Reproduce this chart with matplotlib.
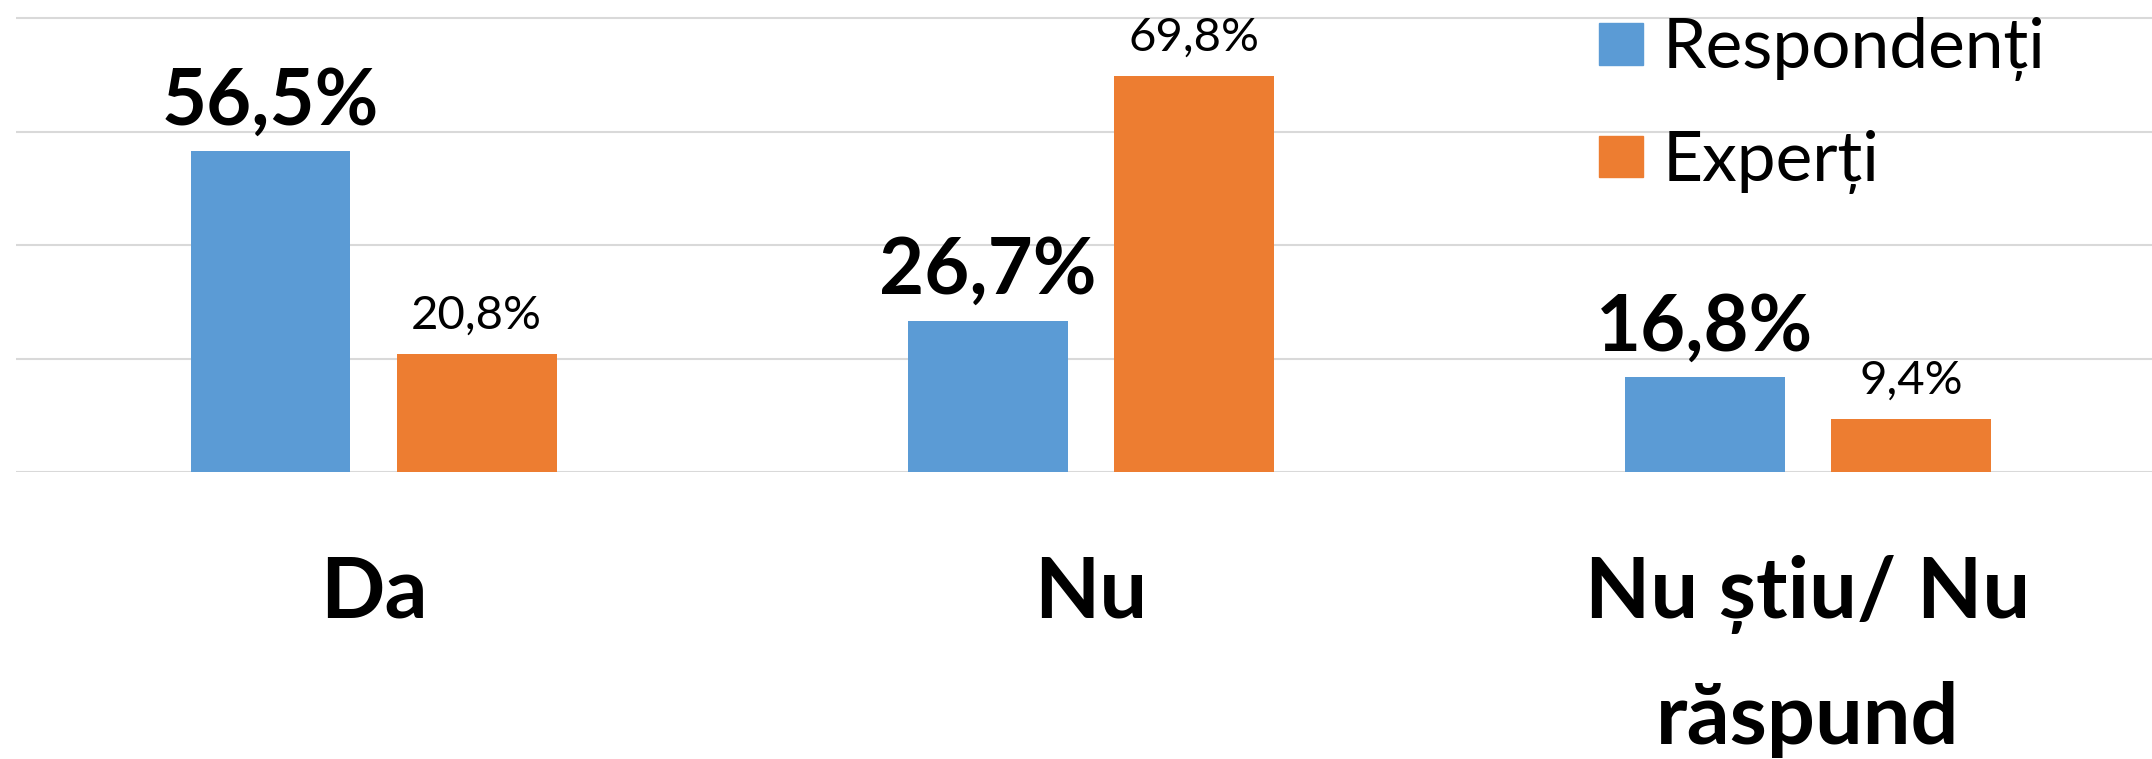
import matplotlib
matplotlib.use('Agg')
import matplotlib.pyplot as plt
import matplotlib.patches as mpatches
import numpy as np

# DATA
categories = ['Da', 'Nu', 'Nu știu/ Nu\nrăspund']
respondenti = [56.5, 26.7, 16.8]
experti = [20.8, 69.8, 9.4]
series_names = ['Respondenți', 'Experți']

BLUE = '#5B9BD5'
ORANGE = '#ED7D31'
FONT = ['Lato', 'DejaVu Sans']

plt.rcParams['font.family'] = FONT

fig = plt.figure(figsize=(21.52, 7.59), dpi=100)
ax = fig.add_axes([16/2152, 287/759, (2152-16)/2152, 472/759])

x = np.arange(len(categories))
w = 0.223
off = 0.1437
ax.bar(x - off, respondenti, w, color=BLUE, zorder=3)
ax.bar(x + off, experti, w, color=ORANGE, zorder=3)

# value labels
for xi, v in zip(x, respondenti):
    ax.annotate(f'{v:.1f}%'.replace('.', ','), (xi - off, v), xytext=(0, 19),
                textcoords='offset points', ha='center', va='baseline',
                fontsize=56, fontweight='bold')
for xi, v in zip(x, experti):
    ax.annotate(f'{v:.1f}%'.replace('.', ','), (xi + off, v), xytext=(0, 18),
                textcoords='offset points', ha='center', va='baseline',
                fontsize=34)

ax.set_xlim(-0.4986, 2.48)
ax.set_ylim(0, 83.2)
ax.set_yticks([0, 20, 40, 60, 80])
ax.yaxis.grid(True, color='#d9d9d9', linewidth=1.5, zorder=0)
ax.tick_params(axis='y', left=False, labelleft=False)
ax.tick_params(axis='x', bottom=False, pad=56)
ax.set_xticks(x)
ax.set_xticklabels(categories, fontsize=61, fontweight='bold', linespacing=1.75)
for s in ax.spines.values():
    s.set_visible(False)

handles = [mpatches.Patch(color=BLUE, label=series_names[0]),
           mpatches.Patch(color=ORANGE, label=series_names[1])]
fig.legend(handles=handles, loc='upper left', bbox_to_anchor=(1599/2152, 0.977),
           frameon=False, fontsize=50, handlelength=0.64, handleheight=0.54,
           handletextpad=0.27, labelspacing=0.7, borderpad=0, borderaxespad=0)

fig.savefig('out.png', dpi=100)
